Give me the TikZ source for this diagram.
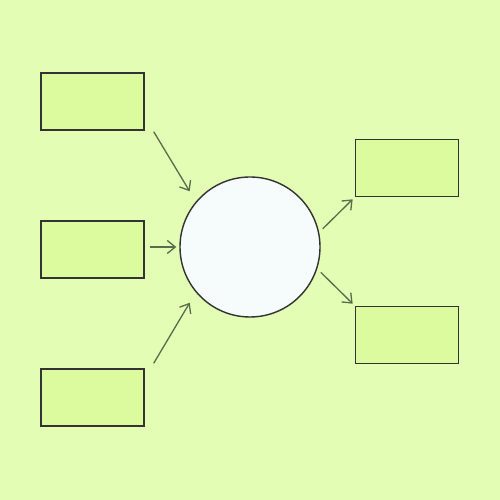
\documentclass[tikz,border=0pt]{standalone}
\usetikzlibrary{arrows.meta}
\definecolor{bgreen}{HTML}{E4FDB4}
\definecolor{boxgreen}{HTML}{DBFB9E}
\definecolor{hubwhite}{HTML}{F5FCFB}
\definecolor{linkgray}{HTML}{5A6E4C}
\begin{document}
\begin{tikzpicture}[
				box/.style={draw=black!80, fill=boxgreen, line width=0.8pt, minimum width=2.06cm, minimum height=1.14cm, inner sep=0pt},
				hub/.style={draw=black!80, fill=hubwhite, line width=0.8pt, circle, minimum size=2.8cm, inner sep=0pt},
				link/.style={draw=linkgray, line width=0.75pt, -{Straight Barb[length=1.6mm, width=2.6mm]}}
				]
				\fill[bgreen] (0,0) rectangle (10,10);
				\useasboundingbox (0,0) rectangle (10,10);
				\node[hub] (c) at (5,5.06) {};
				\node[box] (b1) at (1.85,7.97) {};
				\node[box] (b2) at (1.85,5.01) {};
				\node[box] (b3) at (1.85,2.05) {};
				\node[box] (b4) at (8.14,6.64) {};
				\node[box] (b5) at (8.14,3.30) {};
				\draw[link, shorten >=0.24cm] ([xshift=0.18cm,yshift=-0.02cm]b1.south east) -- (c.140);
				\draw[link, shorten <=0.1cm, shorten >=0.06cm] (b2.east |- c) -- (c.west);
				\draw[link, shorten >=0.24cm] ([xshift=0.18cm,yshift=0.1cm]b3.north east) -- (c.220);
				\draw[link, shorten <=0.1cm, shorten >=0.06cm] (c.12) -- (b4.south west);
				\draw[link, shorten <=0.1cm, shorten >=0.06cm] (c.-18) -- (b5.north west);
			\end{tikzpicture}
\end{document}
